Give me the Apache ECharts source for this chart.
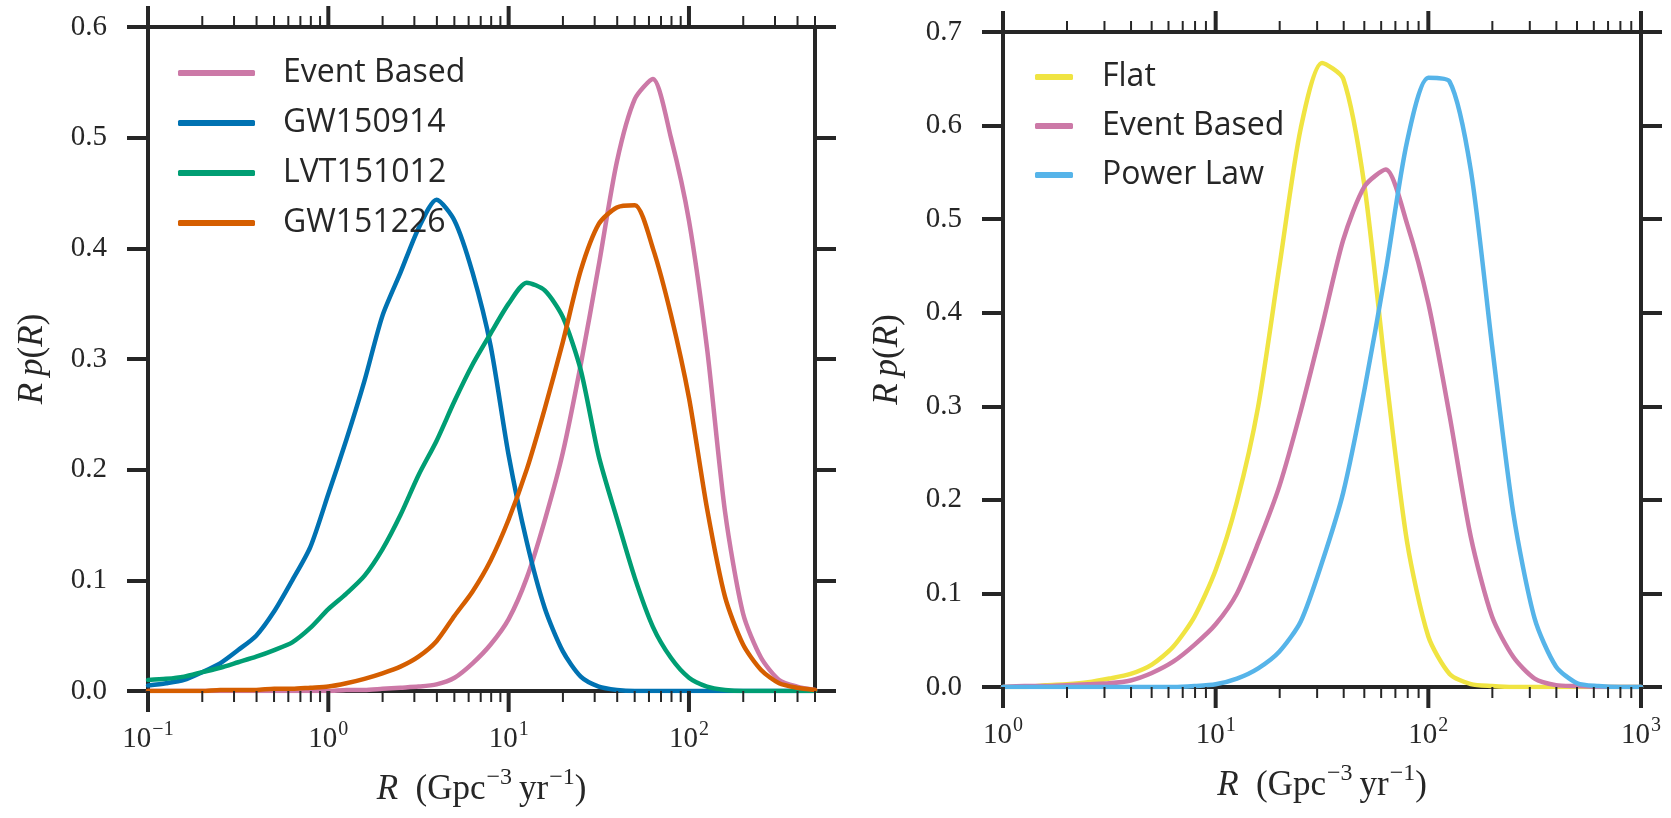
<!DOCTYPE html>
<html>
<head>
<meta charset="utf-8">
<script src="https://cdn.jsdelivr.net/npm/echarts@6/dist/echarts.min.js"></script>
<style>
html,body{margin:0;padding:0;background:#ffffff;}
#c{width:1671px;height:818px;}
</style>
</head>
<body>
<div id="c"></div>
<script>
// ---------- data ----------
// x sample positions, as log10(R)
const logR_left = [-1.0,-0.9,-0.8,-0.7,-0.6,-0.5,-0.4,-0.3,-0.2,-0.1,
                    0.0, 0.1, 0.2, 0.3, 0.4, 0.5, 0.6, 0.7, 0.8, 0.9,
                    1.0, 1.1, 1.2, 1.3, 1.4, 1.5, 1.6, 1.7, 1.8, 1.9,
                    2.0, 2.1, 2.2, 2.3, 2.4, 2.5, 2.6, 2.7];
const logR_right = [0.0, 0.1, 0.2, 0.3, 0.4, 0.5, 0.6, 0.7, 0.8, 0.9,
                    1.0, 1.1, 1.2, 1.3, 1.4, 1.5, 1.6, 1.7, 1.8, 1.9,
                    2.0, 2.1, 2.2, 2.3, 2.4, 2.5, 2.6, 2.7, 2.8, 2.9, 3.0];

// left panel
const eventBasedLeft = [0,0,0,0,0,0,0,0,0,0,
  0.000,0.001,0.001,0.002,0.003,0.004,0.006,0.012,0.025,0.042,
  0.065,0.102,0.154,0.215,0.295,0.385,0.478,0.535,0.553,0.500,
  0.425,0.310,0.162,0.070,0.030,0.010,0.004,0.001];
const gw150914 = [0.005,0.007,0.010,0.017,0.025,0.037,0.050,0.072,0.100,0.130,
  0.178,0.227,0.280,0.339,0.378,0.418,0.444,0.425,0.378,0.312,
  0.213,0.135,0.075,0.036,0.013,0.004,0.001,0,0,0,
  0,0,0,0,0,0,0,0];
const lvt151012 = [0.010,0.011,0.013,0.017,0.021,0.026,0.031,0.037,0.044,0.057,
  0.074,0.088,0.104,0.128,0.159,0.195,0.226,0.262,0.295,0.323,
  0.350,0.369,0.362,0.338,0.290,0.212,0.156,0.102,0.058,0.030,
  0.012,0.004,0.001,0,0,0,0,0];
const gw151226 = [0,0,0,0,0.001,0.001,0.001,0.002,0.002,0.003,
  0.004,0.007,0.011,0.016,0.022,0.031,0.045,0.068,0.090,0.118,
  0.155,0.200,0.255,0.315,0.380,0.422,0.437,0.439,0.400,0.340,
  0.265,0.165,0.085,0.042,0.019,0.007,0.003,0.001];

// right panel
const flat = [0,0,0.002,0.003,0.005,0.009,0.014,0.024,0.043,0.075,
  0.125,0.198,0.300,0.450,0.597,0.667,0.650,0.535,0.335,0.155,
  0.054,0.014,0.003,0.001,0,0,0,0,0,0,0];
const eventBasedRight = [0,0.001,0.001,0.002,0.003,0.004,0.007,0.015,0.027,0.045,
  0.067,0.100,0.154,0.215,0.295,0.385,0.478,0.535,0.553,0.495,
  0.410,0.290,0.160,0.075,0.032,0.009,0.002,0.001,0,0,0];
const powerLaw = [0,0,0,0,0,0,0,0,0,0.001,
  0.003,0.009,0.020,0.038,0.070,0.133,0.208,0.318,0.445,0.583,
  0.651,0.647,0.552,0.364,0.185,0.073,0.022,0.004,0.001,0,0];

// axis ticks
const xMajorLeft = [0.1, 1, 10, 100];
const xMinorLeft = [0.2,0.3,0.4,0.5,0.6,0.7,0.8,0.9, 2,3,4,5,6,7,8,9, 20,30,40,50,60,70,80,90, 200,300,400,500];
const xMajorRight = [1, 10, 100, 1000];
const xMinorRight = [2,3,4,5,6,7,8,9, 20,30,40,50,60,70,80,90, 200,300,400,500,600,700,800,900];

const legendLeft = ['Event Based','GW150914','LVT151012','GW151226'];
const legendRight = ['Flat','Event Based','Power Law'];

// ---------- styling ----------
const INK = '#262626';
const SERIF = "'Liberation Serif','DejaVu Serif',serif";
const SANS = "'Open Sans','Noto Sans',sans-serif";
const COL = {
  'Event Based':'#CC79A7','GW150914':'#0072B2','LVT151012':'#009E73','GW151226':'#D55E00',
  'Flat':'#F0E442','Power Law':'#56B4E9'
};

function pairs(logs, vals){ return logs.map((l,i)=>[Math.pow(10,l), vals[i]]); }

function lineSeries(name, logs, vals, xi, yi){
  return {
    type:'line', name:name, xAxisIndex:xi, yAxisIndex:yi,
    data:pairs(logs, vals), symbol:'none', showSymbol:false,
    smooth:0.25, clip:true,
    lineStyle:{color:COL[name], width:4.5, cap:'round', join:'round'},
    itemStyle:{color:COL[name]},
    emphasis:{disabled:true}
  };
}

function tickSeries(xi, yi, majors, minors, yMin, yMax){
  const data = majors.map(v=>[v,1]).concat(minors.map(v=>[v,0]));
  return {
    type:'custom', xAxisIndex:xi, yAxisIndex:yi, data:data, silent:true, clip:false,
    encode:{x:0, y:1}, z:10,
    renderItem:function(params, api){
      const r = api.value(0), major = api.value(1) === 1;
      const b = api.coord([r, yMin]), t = api.coord([r, yMax]);
      const len = major ? 21 : 11, w = major ? 4 : 2;
      const st = {stroke:INK, lineWidth:w};
      return {type:'group', children:[
        {type:'line', shape:{x1:b[0], y1:b[1], x2:b[0], y2:b[1]+len}, style:st},
        {type:'line', shape:{x1:t[0], y1:t[1], x2:t[0], y2:t[1]-len}, style:st}
      ]};
    }
  };
}

function powLabel(v){
  const l = Math.log10(v), e = Math.round(l);
  if (Math.abs(l - e) > 1e-6) return '';
  return '{b|10}{s|' + (e < 0 ? '\u2212' + (-e) : String(e)) + '}';
}
const powRich = {
  b:{fontFamily:SERIF, fontSize:29, color:INK, lineHeight:32, verticalAlign:'bottom'},
  s:{fontFamily:SERIF, fontSize:20, color:INK, lineHeight:21, padding:[0,0,14,1], verticalAlign:'bottom'}
};

const xName = '{i|R}{t|\u2002(Gpc}{s|\u22123}{t|\u2009yr}{s|\u22121}{t|)}';
const xNameRich = {
  i:{fontFamily:SERIF, fontStyle:'italic', fontSize:35, color:INK, lineHeight:38, verticalAlign:'bottom'},
  t:{fontFamily:SERIF, fontSize:35, color:INK, lineHeight:38, verticalAlign:'bottom'},
  s:{fontFamily:SERIF, fontSize:24, color:INK, lineHeight:24, padding:[0,0,17,1], verticalAlign:'bottom'}
};
const yName = '{i|R\u2009p}{t|(}{i|R}{t|)}';
const yNameRich = {
  i:{fontFamily:SERIF, fontStyle:'italic', fontSize:35, color:INK},
  t:{fontFamily:SERIF, fontSize:35, color:INK}
};

function xAxes(gi, min, max){
  return [
    {type:'log', logBase:10, gridIndex:gi, min:min, max:max, position:'bottom',
     axisLine:{show:true, onZero:false, lineStyle:{color:INK, width:4}},
     axisTick:{show:false}, splitLine:{show:false}, minorTick:{show:false},
     axisLabel:{show:true, margin:31, formatter:powLabel, rich:powRich, color:INK},
     name:xName, nameLocation:'middle', nameGap:78, nameTextStyle:{rich:xNameRich, color:INK}},
    {type:'log', logBase:10, gridIndex:gi, min:min, max:max, position:'top',
     axisLine:{show:true, onZero:false, lineStyle:{color:INK, width:4}},
     axisTick:{show:false}, splitLine:{show:false}, axisLabel:{show:false}}
  ];
}
function yAxes(gi, max){
  return [
    {type:'value', gridIndex:gi, min:0, max:max, interval:0.1, position:'left',
     axisLine:{show:true, onZero:false, lineStyle:{color:INK, width:4}},
     axisTick:{show:true, inside:false, length:21, lineStyle:{color:INK, width:4}},
     splitLine:{show:false},
     axisLabel:{show:true, margin:41, color:INK, fontFamily:SERIF, fontSize:29,
       formatter:function(v){ return v.toFixed(1); }},
     name:yName, nameLocation:'middle', nameGap:98, nameTextStyle:{rich:yNameRich, color:INK}},
    {type:'value', gridIndex:gi, min:0, max:max, interval:0.1, position:'right',
     axisLine:{show:true, onZero:false, lineStyle:{color:INK, width:4}},
     axisTick:{show:true, inside:false, length:21, lineStyle:{color:INK, width:4}},
     splitLine:{show:false}, axisLabel:{show:false}}
  ];
}

const chart = echarts.init(document.getElementById('c'), null, {renderer:'canvas'});
chart.setOption({
  animation:false,
  backgroundColor:'#ffffff',
  grid:[
    {left:148, top:27, width:667, height:664},
    {left:1003, top:32, width:638, height:655}
  ],
  xAxis: xAxes(0, 0.1, 500).concat(xAxes(1, 1, 1000)),
  yAxis: yAxes(0, 0.6).concat(yAxes(1, 0.7)),
  legend:[
    {data:legendLeft, orient:'vertical', left:178, top:57, padding:0,
     icon:'roundRect', itemWidth:77, itemHeight:6, itemGap:18,
     textStyle:{fontFamily:SANS, fontSize:32, color:INK, lineHeight:32, padding:[0,0,0,23]},
     selectedMode:false},
    {data:legendRight, orient:'vertical', left:1035, top:61, padding:0,
     icon:'roundRect', itemWidth:38, itemHeight:6, itemGap:17,
     textStyle:{fontFamily:SANS, fontSize:32, color:INK, lineHeight:32, padding:[0,0,0,24]},
     selectedMode:false}
  ],
  series:[
    lineSeries('Event Based', logR_left, eventBasedLeft, 0, 0),
    lineSeries('GW150914', logR_left, gw150914, 0, 0),
    lineSeries('LVT151012', logR_left, lvt151012, 0, 0),
    lineSeries('GW151226', logR_left, gw151226, 0, 0),
    lineSeries('Flat', logR_right, flat, 2, 2),
    lineSeries('Event Based', logR_right, eventBasedRight, 2, 2),
    lineSeries('Power Law', logR_right, powerLaw, 2, 2),
    tickSeries(0, 0, xMajorLeft, xMinorLeft, 0, 0.6),
    tickSeries(2, 2, xMajorRight, xMinorRight, 0, 0.7)
  ]
});
</script>
</body>
</html>
